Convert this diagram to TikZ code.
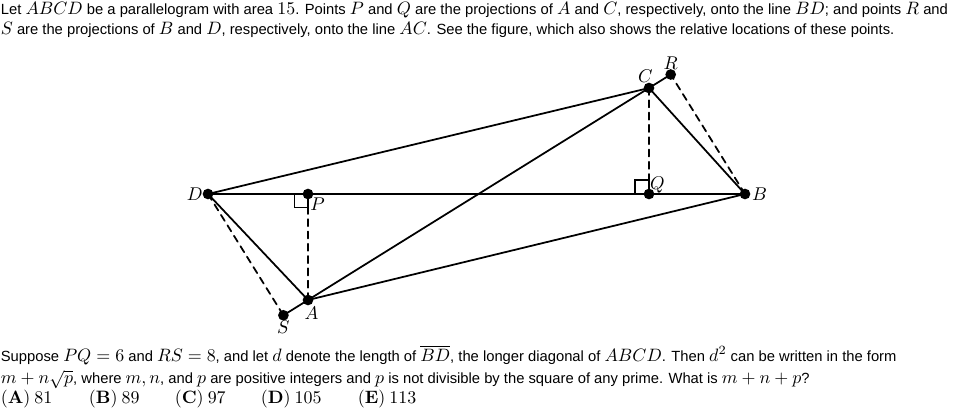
\RequirePackage{fix-cm}
\documentclass[tikz,border=0pt]{standalone}
\usepackage[no-math]{fontspec}
\setmainfont{Liberation Sans}
\usepackage{tkz-euclide}
\DeclareMathSizes{8.4}{10.2}{7.2}{6}

\begin{document}
\begin{tikzpicture}[line width=1pt,
  txt/.style={anchor=base west, inner sep=0pt, font=\fontsize{8.4}{10}\selectfont},
  lbl/.style={font=\fontsize{10.5}{12}\selectfont, inner sep=1.5pt}]
  \useasboundingbox (0,0) rectangle (19.16,8.22);

  \node[txt] (top1) at (0,7.92) {Let $ABCD$ be a parallelogram with area $15$. Points $P$ and $Q$ are the projections of $A$ and $C$, respectively, onto the line $BD$; and points $R$ and};
  \node[txt] (top2) at (0,7.52) {$S$ are the projections of $B$ and $D$, respectively, onto the line $AC$. See the figure, which also shows the relative locations of these points.};

  \tkzDefPoints{4.16/4.34/D, 14.90/4.34/B, 12.98/6.46/C, 6.16/2.22/A}
  \tkzDefPointBy[projection=onto B--D](A) \tkzGetPoint{P}
  \tkzDefPointBy[projection=onto B--D](C) \tkzGetPoint{Q}
  \tkzDefPointBy[projection=onto A--C](B) \tkzGetPoint{R}
  \tkzDefPointBy[projection=onto A--C](D) \tkzGetPoint{S}

  \tkzDrawPolygon[line width=1pt](A,B,C,D)
  \tkzDrawSegments[line width=1pt](B,D A,C A,S C,R)
  \tkzDrawSegments[line width=1pt,dash pattern=on 4pt off 3pt](A,P C,Q D,S B,R)
  \tkzMarkRightAngle[size=.27,line width=1pt](D,P,A)
  \tkzMarkRightAngle[size=.28,line width=1pt](D,Q,C)
  \tkzDrawPoints[size=5,fill=black](A,B,C,D,P,Q,R,S)

  \tkzLabelPoints[lbl,left=1pt](D)
  \tkzLabelPoints[lbl,right=2pt](B)
  \tkzLabelPoints[lbl,above=1pt,xshift=-2pt](C)
  \tkzLabelPoints[lbl,above=1pt](R)
  \tkzLabelPoints[lbl,above right=-2pt](Q)
  \tkzLabelPoints[lbl,below right=-1pt,yshift=-1pt](P)
  \tkzLabelPoints[lbl,below=2pt,xshift=2pt](A)
  \tkzLabelPoints[lbl,below=1pt](S)

  \node[txt] (bot1) at (0,0.99) {Suppose $PQ=6$ and $RS=8$, and let $d$ denote the length of $\overline{BD}$, the longer diagonal of $ABCD$. Then $d^2$ can be written in the form};
  \node[txt] (bot2) at (0,0.56) {$m+n\sqrt{p}$, where $m, n$, and $p$ are positive integers and $p$ is not divisible by the square of any prime. What is $m+n+p$?};
  \node[txt] (ansA) at (0,0.16) {$\mathbf{(A)}\ 81$};
  \node[txt] (ansB) at (1.76,0.16) {$\mathbf{(B)}\ 89$};
  \node[txt] (ansC) at (3.48,0.16) {$\mathbf{(C)}\ 97$};
  \node[txt] (ansD) at (5.20,0.16) {$\mathbf{(D)}\ 105$};
  \node[txt] (ansE) at (7.14,0.16) {$\mathbf{(E)}\ 113$};

\end{tikzpicture}
\end{document}
